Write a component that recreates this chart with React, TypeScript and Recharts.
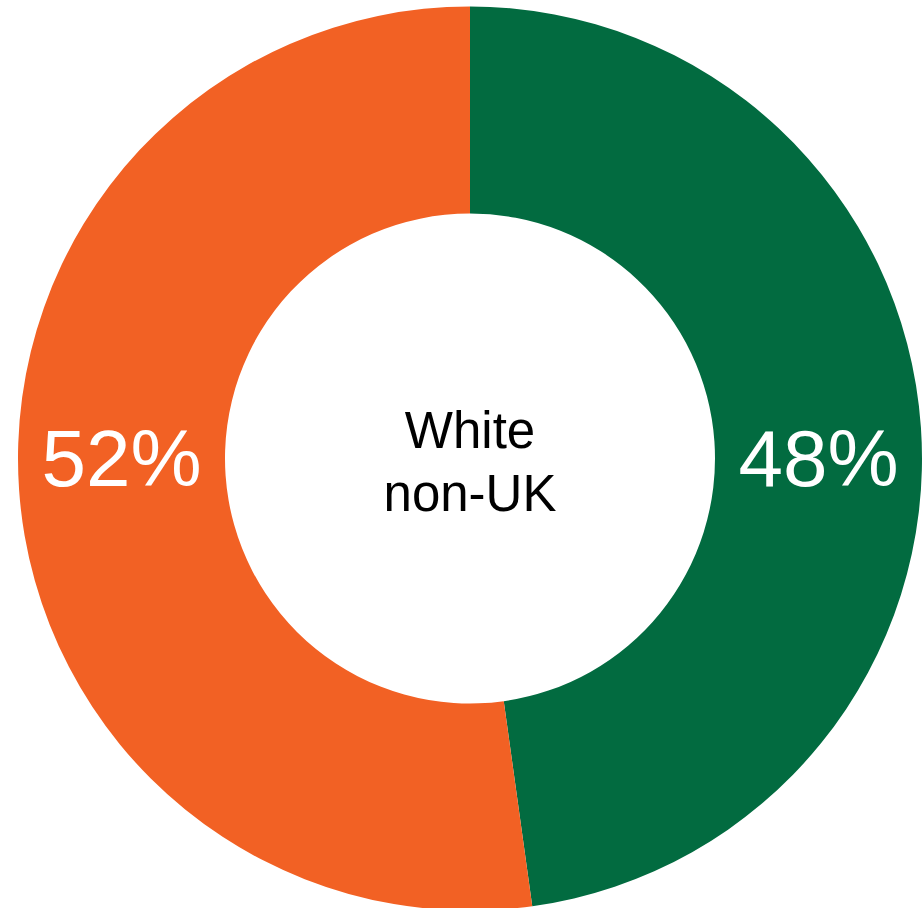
import React from "react";
import { PieChart, Pie, Cell } from "recharts";

const categories = ["Group A", "Group B"];
const values = [47.8, 52.2];
const valueLabels = ["48%", "52%"];
const colors = ["#026B40", "#F26124"];
const centerLines = ["White", "non-UK"];

const data = categories.map((name, i) => ({ name, value: values[i], label: valueLabels[i] }));

const FONT = "'Liberation Sans', Arial, Helvetica, sans-serif";

const renderValueLabel = (props: any) => {
  const { cx, cy, innerRadius, outerRadius, midAngle, index } = props;
  const r = (innerRadius + outerRadius) / 2;
  const side = Math.cos((-midAngle * Math.PI) / 180) >= 0 ? 1 : -1;
  return (
    <g>
      <text
        x={cx + side * r}
        y={cy}
        fill="#ffffff"
        textAnchor="middle"
        dominantBaseline="central"
        fontFamily={FONT}
        fontSize={80}
      >
        {valueLabels[index]}
      </text>
      {index === 0 ? (
        <text textAnchor="middle" fontFamily={FONT} fontSize={51} fill="#000000">
          <tspan x={cx} y={cy - 11}>{centerLines[0]}</tspan>
          <tspan x={cx} y={cy + 52}>{centerLines[1]}</tspan>
        </text>
      ) : null}
    </g>
  );
};

export default function App() {
  return (
    <div style={{ position: "absolute", left: 0, top: 0, width: 923, height: 908, background: "#fff" }}>
      <PieChart width={923} height={908} margin={{ top: 0, right: 0, bottom: 0, left: 0 }}>
        <Pie
          data={data}
          dataKey="value"
          nameKey="name"
          cx={470}
          cy={458.5}
          innerRadius={245}
          outerRadius={452}
          startAngle={90}
          endAngle={-270}
          stroke="none"
          isAnimationActive={false}
          labelLine={false}
          label={renderValueLabel}
        >
          {data.map((d, i) => (
            <Cell key={d.name} fill={colors[i]} />
          ))}
        </Pie>
      </PieChart>
    </div>
  );
}
